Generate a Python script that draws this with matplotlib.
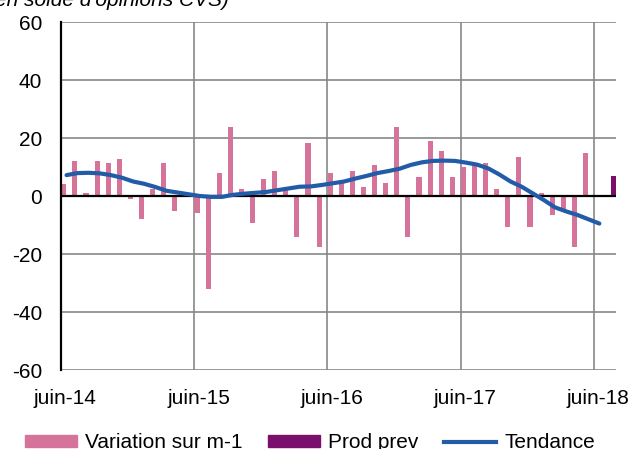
import numpy as np
import matplotlib
matplotlib.use("Agg")
import matplotlib.pyplot as plt
from matplotlib.patches import Patch
from matplotlib.lines import Line2D

plt.rcParams['font.family'] = ['Liberation Sans', 'DejaVu Sans']

# Monthly series, juin-14 (index 0) to juil-18 (index 49)
variation = [4.3, 12.0, 0.9, 12.0, 11.3, 12.8, -1.0, -8.0, 2.3, 11.3,
             -5.3, 0.3, -5.9, -32.2, 7.9, 23.7, 2.3, -9.4, 5.8, 8.6,
             2.5, -14.3, 18.3, -17.7, 7.9, 4.5, 8.6, 3.1, 10.8, 4.5,
             23.9, -14.3, 6.5, 19.1, 15.6, 6.5, 10.0, 11.4, 11.3, 2.3,
             -10.8, 13.5, -10.8, 0.9, -6.6, -4.6, -17.7, 14.8, np.nan, np.nan]
prod_prev = [np.nan] * 49 + [6.8]
tendance = [7.2, 7.9, 8.0, 7.8, 7.2, 6.3, 5.0, 4.2, 3.1, 1.8,
            1.2, 0.6, 0.0, -0.3, -0.3, 0.4, 0.8, 1.1, 1.4, 2.0,
            2.6, 3.2, 3.3, 3.8, 4.4, 5.0, 6.0, 6.9, 7.9, 8.6,
            9.4, 10.7, 11.6, 12.1, 12.2, 12.1, 11.5, 10.8, 9.5, 7.4,
            5.0, 3.2, 0.9, -1.4, -3.9, -5.3, -6.5, -8.0, -9.5]
tick_labels = ["juin-14", "juin-15", "juin-16", "juin-17", "juin-18"]
y_ticks = [-60, -40, -20, 0, 20, 40, 60]

PINK = "#D5739A"
PURPLE = "#7B0F6E"
BLUE = "#225BA8"
GRID = "#878787"

W, H = 638, 449
fig = plt.figure(figsize=(W / 100, H / 100), dpi=100)
ax = fig.add_axes([61 / W, 1 - 370 / H, (616 - 61) / W, (370 - 22) / H])

n = len(variation)
idx = np.arange(n)
ax.bar(idx + 0.02, variation, width=0.46, align='edge', color=PINK, zorder=3)
ax.bar(idx + 0.56, prod_prev, width=0.42, align='edge', color=PURPLE, zorder=3)
ax.plot(np.arange(len(tendance)) + 0.5, tendance, color=BLUE, lw=3.0,
        solid_capstyle='round', solid_joinstyle='round', zorder=5)

ax.set_xlim(0, 50)
ax.set_ylim(-60, 60)
ax.set_yticks(y_ticks)
ax.set_yticklabels([str(v) for v in y_ticks])
ax.tick_params(axis='y', length=0, pad=13.5, labelsize=15)

major = [12 * k for k in range(len(tick_labels))]
ax.set_xticks(major)
ax.set_xticklabels([])
ax.set_xticks([m + 0.4 for m in major], minor=True)
ax.set_xticklabels(tick_labels, minor=True)
ax.tick_params(axis='x', which='both', length=0, labelsize=15)
ax.tick_params(axis='x', which='minor', pad=14)

for y in y_ticks:
    if y != 0:
        ax.axhline(y, color=GRID, lw=1.2, zorder=1)
for m in major[1:]:
    ax.axvline(m, color=GRID, lw=1.2, zorder=1)
ax.axhline(0, color='black', lw=1.6, zorder=4)

for s in ['top', 'right', 'bottom']:
    ax.spines[s].set_visible(False)
ax.spines['left'].set_color('black')
ax.spines['left'].set_linewidth(1.6)
ax.spines['left'].set_zorder(6)

fig.text(229 / W, 1 - 5.5 / H, "(en solde d'opinions CVS)", ha='right',
         va='baseline', fontsize=15, style='italic')

handles = [Patch(color=PINK), Patch(color=PURPLE), Line2D([], [], color=BLUE, lw=3)]
labels = ["Variation sur m-1", "Prod prev", "Tendance"]
fig.legend(handles, labels, loc='center', bbox_to_anchor=(310 / W, 1 - 443 / H),
           ncol=3, frameon=False, fontsize=15, handlelength=2.5,
           handleheight=0.55, handletextpad=0.4, columnspacing=1.2,
           borderpad=0, borderaxespad=0)

fig.savefig("out.png", dpi=100)
